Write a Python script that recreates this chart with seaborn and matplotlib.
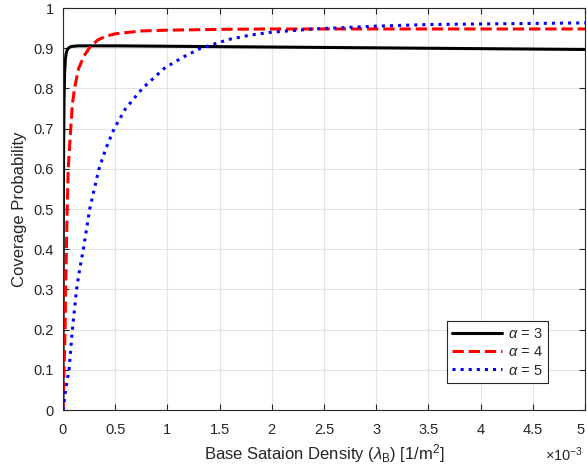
import numpy as np
import pandas as pd
import matplotlib
matplotlib.use("Agg")
import matplotlib.pyplot as plt
import seaborn as sns

sns.set_theme(style="white")
plt.rcParams['font.family'] = ['Liberation Sans', 'DejaVu Sans']
plt.rcParams['mathtext.fontset'] = 'custom'
plt.rcParams['mathtext.rm'] = 'Liberation Sans'
plt.rcParams['mathtext.it'] = 'Liberation Sans:italic'

labels = [r"$\alpha$ = 3", r"$\alpha$ = 4", r"$\alpha$ = 5"]

# density values (1/m^2)
x_a3 = [0, 0.001e-3, 0.003e-3, 0.006e-3, 0.010e-3, 0.015e-3, 0.022e-3, 0.030e-3, 0.040e-3,
        0.055e-3, 0.075e-3, 0.10e-3, 0.15e-3, 0.3e-3, 0.5e-3, 1e-3, 2e-3, 3e-3, 4e-3, 5e-3]
y_a3 = [0, 0.2, 0.45, 0.65, 0.77, 0.835, 0.87, 0.887, 0.896,
        0.901, 0.904, 0.905, 0.906, 0.906, 0.906, 0.905, 0.903, 0.901, 0.899, 0.897]

x_a4 = [0, 0.005e-3, 0.01e-3, 0.02e-3, 0.025e-3, 0.033e-3, 0.04e-3, 0.05e-3, 0.074e-3, 0.09e-3,
        0.11e-3, 0.15e-3, 0.2e-3, 0.25e-3, 0.33e-3, 0.4e-3, 0.5e-3, 0.75e-3, 1e-3, 1.5e-3,
        2e-3, 3e-3, 4e-3, 5e-3]
y_a4 = [0, 0.05, 0.1, 0.2, 0.3, 0.4, 0.5, 0.6, 0.7, 0.76,
        0.8, 0.85, 0.88, 0.9, 0.92, 0.929, 0.936, 0.943, 0.945, 0.947,
        0.948, 0.948, 0.948, 0.948]

x_a5 = [0, 0.025e-3, 0.058e-3, 0.09e-3, 0.13e-3, 0.16e-3, 0.195e-3, 0.256e-3, 0.3e-3, 0.345e-3,
        0.41e-3, 0.49e-3, 0.6e-3, 0.76e-3, 0.97e-3, 1.15e-3, 1.32e-3, 1.59e-3, 1.8e-3,
        2.0e-3, 2.4e-3, 3.0e-3, 3.5e-3, 4.2e-3, 5e-3]
y_a5 = [0, 0.05, 0.1, 0.2, 0.3, 0.35, 0.4, 0.5, 0.55, 0.6,
        0.65, 0.7, 0.75, 0.8, 0.85, 0.878, 0.9, 0.922, 0.933,
        0.94, 0.948, 0.955, 0.959, 0.961, 0.963]

xticks_k = [0, 0.5, 1, 1.5, 2, 2.5, 3, 3.5, 4, 4.5, 5]
yticks = [0, 0.1, 0.2, 0.3, 0.4, 0.5, 0.6, 0.7, 0.8, 0.9, 1]

fig = plt.figure(figsize=(5.87, 4.74), dpi=100)
ax = fig.add_axes([0.1073, 0.135, 0.8893, 0.848])

series = [(x_a3, y_a3, 'black', '-'), (x_a4, y_a4, '#ff0000', '--'), (x_a5, y_a5, '#0000ff', ':')]
for (xs, ys, c, ls), lab in zip(series, labels):
    df = pd.DataFrame({'x': xs, 'y': ys})
    sns.lineplot(data=df, x='x', y='y', ax=ax, color=c, linestyle=ls, linewidth=2.2,
                 label=lab, sort=False, estimator=None)

ax.set_xlim(0, 5e-3)
ax.set_ylim(0, 1)
ax.set_xticks([v * 1e-3 for v in xticks_k])
ax.set_xticklabels([('%g' % v) for v in xticks_k])
ax.get_xticklabels()[-1].set_horizontalalignment('right')
ax.set_yticks(yticks)
ax.set_yticklabels([('%g' % v) for v in yticks])

ax.grid(True, color='#e3e3e3', linewidth=0.8)
ax.set_axisbelow(True)
for s in ax.spines.values():
    s.set_color('#262626')
    s.set_linewidth(0.8)
ax.tick_params(direction='in', length=4, width=0.8, colors='#262626', labelsize=10.5,
               top=True, right=True, bottom=True, left=True)
ax.tick_params(axis='x', pad=9)
ax.tick_params(axis='y', pad=6.5)

ax.text(0.997, -0.112, r"$\times10^{-3}$", transform=ax.transAxes, ha='right', va='center',
        fontsize=10.5, color='#262626')

ax.set_xlabel(r"Base Sataion Density ($\lambda_\mathrm{B}$) [1/m$^2$]", fontsize=12, color='#262626', labelpad=4)
ax.set_ylabel("Coverage Probability", fontsize=12, color='#262626', labelpad=5)

leg = ax.legend(loc='lower right', bbox_to_anchor=(0.944, 0.048), fontsize=10.5, frameon=True,
                fancybox=False, edgecolor='#262626', framealpha=1, handlelength=3.4,
                borderpad=0.4, labelspacing=0.3, handletextpad=0.4)
leg.get_frame().set_linewidth(0.8)

fig.savefig("out.png", dpi=100)
